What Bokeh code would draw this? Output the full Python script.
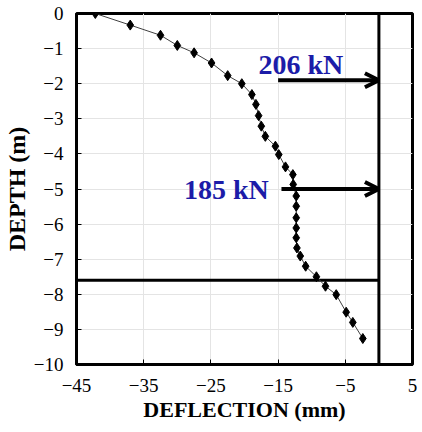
from bokeh.plotting import figure
from bokeh.models import FixedTicker, ColumnDataSource, Arrow, OpenHead, Range1d
from bokeh.core.properties import value
from bokeh.embed import file_html
from bokeh.resources import INLINE

# Data
deflection = [-42.2, -37.0, -32.5, -30.0, -27.5, -24.9, -22.5, -20.4, -18.9, -18.3,
              -17.9, -17.5, -16.9, -15.4, -14.9, -13.9, -12.8, -12.75, -12.3, -12.3,
              -12.3, -12.3, -12.3, -12.2, -11.7, -10.9, -9.3, -7.95, -6.35, -4.87,
              -3.88, -2.39]
depth = [0.0, -0.33, -0.62, -0.91, -1.12, -1.41, -1.77, -2.0, -2.31, -2.59,
         -2.91, -3.21, -3.50, -3.78, -4.02, -4.37, -4.59, -4.87, -5.20, -5.49,
         -5.82, -6.11, -6.39, -6.68, -6.91, -7.20, -7.50, -7.77, -8.01, -8.51,
         -8.80, -9.26]

x_ticks = [-45, -35, -25, -15, -5, 5]
y_ticks = [0, -1, -2, -3, -4, -5, -6, -7, -8, -9, -10]

load_labels = ["206 kN", "185 kN"]
load_depth = [-1.9, -5.0]
load_start = [-15.0, -14.5]
load_end = [0.0, 0.0]

wall_x = [0.0, 0.0]
wall_y = [0.0, -10.0]
base_x = [-45.0, 0.0]
base_y = [-7.6, -7.6]

FONT = "Liberation Serif"

p = figure(output_backend="svg", toolbar_location=None,
           x_range=Range1d(-45, 5), y_range=Range1d(-10, 0),
           frame_width=336, frame_height=351,
           min_border_left=67, min_border_top=13, min_border_right=6, min_border_bottom=40)
p.background_fill_color = "white"
p.border_fill_color = "white"
p.outline_line_color = "black"
p.outline_line_width = 3

for ax in (p.xaxis, p.yaxis):
    ax.axis_line_width = 3
    ax.axis_line_color = "black"
    ax.major_tick_in = 5
    ax.major_tick_out = 0
    ax.minor_tick_in = 0
    ax.minor_tick_out = 0
    ax.major_tick_line_color = "black"
    ax.major_tick_line_width = 1
    ax.major_label_text_font = FONT
    ax.major_label_text_font_size = "19px"
    ax.major_label_text_color = "black"
    ax.axis_label_text_font = FONT
    ax.axis_label_text_font_style = "bold"
    ax.axis_label_text_color = "black"

p.xaxis.ticker = FixedTicker(ticks=x_ticks)
p.yaxis.ticker = FixedTicker(ticks=y_ticks)
p.xaxis.axis_label = "DEFLECTION (mm)"
p.yaxis.axis_label = "DEPTH (m)"
p.xaxis.axis_label_text_font_size = "22px"
p.yaxis.axis_label_text_font_size = "24px"
p.xaxis.major_label_standoff = 14
p.yaxis.major_label_standoff = 13
p.xaxis.axis_label_standoff = 2
p.yaxis.axis_label_standoff = 1

p.xgrid.grid_line_color = "#e4e4e4"
p.ygrid.grid_line_color = "#e4e4e4"
p.xgrid.grid_line_width = 1
p.ygrid.grid_line_width = 1

# wall and base lines
p.line(wall_x, wall_y, line_color="black", line_width=3)
p.line(base_x, base_y, line_color="black", line_width=3)

# deflection profile
p.line(deflection, depth, line_color="#404040", line_width=1)
p.scatter(deflection, depth, marker="diamond", size=10, fill_color="black", line_color="black")

# load arrows
arrow_src = ColumnDataSource(dict(x0=load_start, x1=load_end, y=load_depth))
p.add_layout(Arrow(source=arrow_src, x_start="x0", y_start="y", x_end="x1", y_end="y",
                   line_width=4, line_color="black",
                   end=OpenHead(size=14, line_width=4, line_color="black")))

lab_color = "#1c1ca8"
p.text(x=[-11.6], y=[load_depth[0] + 0.45], text=[load_labels[0]],
       text_font=value(FONT), text_font_style="bold", text_font_size="28px",
       text_color=lab_color, text_align="center", text_baseline="middle")
p.text(x=[load_start[1] - 1.9], y=[load_depth[1]], text=[load_labels[1]],
       text_font=value(FONT), text_font_style="bold", text_font_size="28px",
       text_color=lab_color, text_align="right", text_baseline="middle")

open("out.html", "w").write(file_html(p, INLINE))
